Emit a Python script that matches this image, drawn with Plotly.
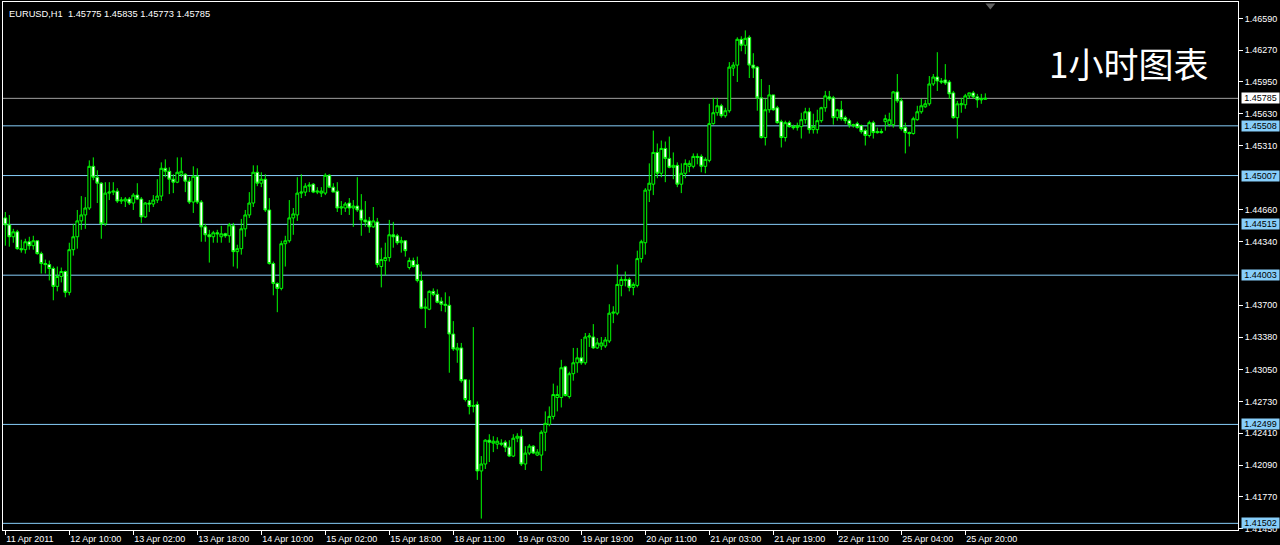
import plotly.graph_objects as go

symbol = "EURUSD,H1"
chart_title = "1小时图表"

opens = [
    1.4458, 1.4451, 1.4439, 1.4444, 1.4427, 1.4426, 1.4434, 1.4430, 1.4435, 1.4422,
    1.4412, 1.4411, 1.4407, 1.4389, 1.4399, 1.4404, 1.4383, 1.4426, 1.4439, 1.4455,
    1.4461, 1.4468, 1.4510, 1.4499, 1.4493, 1.4452, 1.4483, 1.4484, 1.4485, 1.4475,
    1.4475, 1.4477, 1.4473, 1.4481, 1.4477, 1.4459, 1.4473, 1.4472, 1.4476, 1.4480,
    1.4508, 1.4505, 1.4497, 1.4494, 1.4502, 1.4502, 1.4495, 1.4474, 1.4500, 1.4474,
    1.4449, 1.4441, 1.4439, 1.4443, 1.4439, 1.4442, 1.4440, 1.4450, 1.4424, 1.4427,
    1.4447, 1.4461, 1.4473, 1.4504, 1.4493, 1.4497, 1.4466, 1.4412, 1.4392, 1.4387,
    1.4432, 1.4435, 1.4458, 1.4461, 1.4483, 1.4484, 1.4490, 1.4492, 1.4484, 1.4483,
    1.4483, 1.4501, 1.4489, 1.4485, 1.4468, 1.4468, 1.4473, 1.4468, 1.4470, 1.4466,
    1.4456, 1.4455, 1.4449, 1.4454, 1.4409, 1.4415, 1.4418, 1.4441, 1.4440, 1.4433,
    1.4435, 1.4408, 1.4415, 1.4411, 1.4395, 1.4367, 1.4366, 1.4384, 1.4381, 1.4374,
    1.4371, 1.4370, 1.4341, 1.4325, 1.4327, 1.4295, 1.4274, 1.4268, 1.4270, 1.4203,
    1.4210, 1.4234, 1.4231, 1.4230, 1.4231, 1.4232, 1.4227, 1.4218, 1.4236, 1.4238,
    1.4210, 1.4221, 1.4228, 1.4219, 1.4219, 1.4242, 1.4250, 1.4258, 1.4277, 1.4277,
    1.4308, 1.4278, 1.4301, 1.4312, 1.4317, 1.4312, 1.4338, 1.4338, 1.4327, 1.4329,
    1.4329, 1.4334, 1.4362, 1.4362, 1.4390, 1.4396, 1.4396, 1.4388, 1.4390, 1.4417,
    1.4433, 1.4486, 1.4492, 1.4524, 1.4503, 1.4528, 1.4518, 1.4509, 1.4511, 1.4492,
    1.4503, 1.4510, 1.4510, 1.4520, 1.4520, 1.4510, 1.4516, 1.4553, 1.4564, 1.4571,
    1.4561, 1.4566, 1.4609, 1.4612, 1.4638, 1.4632, 1.4640, 1.4612, 1.4610, 1.4579,
    1.4539, 1.4567, 1.4582, 1.4569, 1.4555, 1.4539, 1.4554, 1.4550, 1.4549, 1.4550,
    1.4557, 1.4565, 1.4547, 1.4547, 1.4556, 1.4569, 1.4580, 1.4579, 1.4559, 1.4567,
    1.4559, 1.4556, 1.4552, 1.4553, 1.4551, 1.4546, 1.4541, 1.4554, 1.4545, 1.4545,
    1.4555, 1.4552, 1.4552, 1.4585, 1.4576, 1.4549, 1.4544, 1.4543, 1.4557, 1.4565,
    1.4570, 1.4573, 1.4593, 1.4600, 1.4596, 1.4597, 1.4595, 1.4584, 1.4559, 1.4572,
    1.4572, 1.4581, 1.4584, 1.4580, 1.4577, 1.45775,
]

highs = [
    1.4464, 1.4461, 1.4447, 1.4446, 1.4436, 1.4437, 1.4439, 1.4440, 1.4435, 1.4424,
    1.4416, 1.4415, 1.4409, 1.4409, 1.4408, 1.4405, 1.4433, 1.4452, 1.4466, 1.4480,
    1.4479, 1.4516, 1.4519, 1.4506, 1.4494, 1.4494, 1.4494, 1.4494, 1.4488, 1.4479,
    1.4479, 1.4479, 1.4483, 1.4493, 1.4479, 1.4474, 1.4476, 1.4481, 1.4497, 1.4514,
    1.4517, 1.4509, 1.4502, 1.4519, 1.4519, 1.4503, 1.4499, 1.4510, 1.4508, 1.4476,
    1.4452, 1.4446, 1.4445, 1.4446, 1.4450, 1.4443, 1.4453, 1.4453, 1.4431, 1.4457,
    1.4466, 1.4484, 1.4511, 1.4511, 1.4504, 1.4502, 1.4478, 1.4414, 1.4393, 1.4435,
    1.4440, 1.4476, 1.4468, 1.4499, 1.4502, 1.4493, 1.4494, 1.4493, 1.4489, 1.4489,
    1.4503, 1.4502, 1.4493, 1.4494, 1.4475, 1.4474, 1.4478, 1.4476, 1.4499, 1.4482,
    1.4475, 1.4459, 1.4469, 1.4458, 1.4428, 1.4433, 1.4456, 1.4454, 1.4442, 1.4439,
    1.4435, 1.4418, 1.4418, 1.4419, 1.4404, 1.4377, 1.4385, 1.4387, 1.4386, 1.4378,
    1.4383, 1.4379, 1.4354, 1.4332, 1.4332, 1.4295, 1.4295, 1.4348, 1.4273, 1.4218,
    1.4235, 1.4240, 1.4238, 1.4237, 1.4235, 1.4234, 1.4234, 1.4240, 1.4241, 1.4245,
    1.4228, 1.4230, 1.4229, 1.4225, 1.4244, 1.4263, 1.4268, 1.4291, 1.4289, 1.4315,
    1.4309, 1.4303, 1.4327, 1.4327, 1.4336, 1.4342, 1.4342, 1.4351, 1.4337, 1.4338,
    1.4338, 1.4371, 1.4369, 1.4411, 1.4399, 1.4404, 1.4398, 1.4393, 1.4425, 1.4436,
    1.4488, 1.4513, 1.4546, 1.4533, 1.4536, 1.4535, 1.4540, 1.4524, 1.4514, 1.4513,
    1.4517, 1.4516, 1.4523, 1.4523, 1.4522, 1.4519, 1.4573, 1.4579, 1.4579, 1.4573,
    1.4569, 1.4615, 1.4615, 1.4640, 1.4641, 1.4647, 1.4642, 1.4624, 1.4611, 1.4598,
    1.4578, 1.4592, 1.4582, 1.4571, 1.4557, 1.4556, 1.4556, 1.4552, 1.4554, 1.4564,
    1.4569, 1.4569, 1.4563, 1.4567, 1.4570, 1.4586, 1.4586, 1.4581, 1.4568, 1.4576,
    1.4561, 1.4558, 1.4553, 1.4555, 1.4552, 1.4548, 1.4556, 1.4556, 1.4549, 1.4548,
    1.4562, 1.4564, 1.4586, 1.4603, 1.4579, 1.4554, 1.4545, 1.4560, 1.4571, 1.4578,
    1.4577, 1.4601, 1.4603, 1.4625, 1.4599, 1.4613, 1.4597, 1.4586, 1.4576, 1.4579,
    1.4583, 1.4584, 1.4586, 1.4583, 1.4583, 1.45835,
]

lows = [
    1.4430, 1.4429, 1.4433, 1.4426, 1.4423, 1.4422, 1.4426, 1.4426, 1.4421, 1.4402,
    1.4402, 1.4395, 1.4375, 1.4384, 1.4393, 1.4378, 1.4380, 1.4420, 1.4427, 1.4446,
    1.4447, 1.4466, 1.4496, 1.4473, 1.4437, 1.4450, 1.4476, 1.4481, 1.4473, 1.4472,
    1.4469, 1.4471, 1.4466, 1.4476, 1.4453, 1.4458, 1.4464, 1.4469, 1.4473, 1.4475,
    1.4499, 1.4482, 1.4483, 1.4493, 1.4499, 1.4484, 1.4472, 1.4463, 1.4472, 1.4434,
    1.4434, 1.4413, 1.4433, 1.4433, 1.4433, 1.4438, 1.4433, 1.4409, 1.4407, 1.4421,
    1.4439, 1.4458, 1.4469, 1.4490, 1.4489, 1.4464, 1.4411, 1.4380, 1.4363, 1.4385,
    1.4409, 1.4433, 1.4441, 1.4455, 1.4478, 1.4480, 1.4484, 1.4483, 1.4482, 1.4479,
    1.4481, 1.4488, 1.4484, 1.4464, 1.4461, 1.4464, 1.4461, 1.4449, 1.4464, 1.4440,
    1.4449, 1.4443, 1.4448, 1.4408, 1.4388, 1.4400, 1.4414, 1.4428, 1.4431, 1.4423,
    1.4419, 1.4406, 1.4408, 1.4393, 1.4366, 1.4347, 1.4365, 1.4379, 1.4372, 1.4364,
    1.4363, 1.4302, 1.4324, 1.4312, 1.4292, 1.4273, 1.4260, 1.4262, 1.4194, 1.4155,
    1.4205, 1.4212, 1.4222, 1.4225, 1.4228, 1.4222, 1.4217, 1.4217, 1.4232, 1.4208,
    1.4204, 1.4219, 1.4220, 1.4218, 1.4203, 1.4223, 1.4248, 1.4255, 1.4263, 1.4267,
    1.4278, 1.4276, 1.4294, 1.4302, 1.4310, 1.4310, 1.4328, 1.4326, 1.4326, 1.4325,
    1.4327, 1.4332, 1.4352, 1.4360, 1.4379, 1.4389, 1.4384, 1.4380, 1.4388, 1.4413,
    1.4421, 1.4474, 1.4481, 1.4498, 1.4499, 1.4494, 1.4508, 1.4497, 1.4489, 1.4483,
    1.4498, 1.4504, 1.4508, 1.4512, 1.4504, 1.4503, 1.4514, 1.4552, 1.4561, 1.4559,
    1.4559, 1.4564, 1.4601, 1.4595, 1.4626, 1.4623, 1.4599, 1.4599, 1.4566, 1.4538,
    1.4531, 1.4564, 1.4566, 1.4553, 1.4529, 1.4535, 1.4549, 1.4547, 1.4546, 1.4538,
    1.4553, 1.4543, 1.4543, 1.4543, 1.4554, 1.4565, 1.4576, 1.4552, 1.4556, 1.4556,
    1.4553, 1.4549, 1.4549, 1.4548, 1.4543, 1.4531, 1.4539, 1.4538, 1.4543, 1.4543,
    1.4546, 1.4550, 1.4549, 1.4574, 1.4546, 1.4523, 1.4530, 1.4542, 1.4556, 1.4563,
    1.4569, 1.4571, 1.4591, 1.4586, 1.4593, 1.4592, 1.4578, 1.4558, 1.4538, 1.4564,
    1.4568, 1.4578, 1.4578, 1.4569, 1.4573, 1.45773,
]

closes = [
    1.4451, 1.4439, 1.4444, 1.4427, 1.4426, 1.4434, 1.4430, 1.4435, 1.4422, 1.4412,
    1.4411, 1.4407, 1.4389, 1.4399, 1.4404, 1.4383, 1.4426, 1.4439, 1.4455, 1.4461,
    1.4468, 1.4510, 1.4499, 1.4493, 1.4452, 1.4483, 1.4484, 1.4485, 1.4475, 1.4476,
    1.4477, 1.4473, 1.4481, 1.4477, 1.4459, 1.4473, 1.4472, 1.4476, 1.4480, 1.4508,
    1.4505, 1.4497, 1.4494, 1.4504, 1.4505, 1.4495, 1.4474, 1.4500, 1.4474, 1.4449,
    1.4441, 1.4439, 1.4443, 1.4442, 1.4442, 1.4440, 1.4451, 1.4424, 1.4427, 1.4447,
    1.4461, 1.4473, 1.4504, 1.4493, 1.4497, 1.4466, 1.4412, 1.4392, 1.4387, 1.4432,
    1.4435, 1.4458, 1.4462, 1.4483, 1.4484, 1.4490, 1.4491, 1.4484, 1.4485, 1.4485,
    1.4501, 1.4489, 1.4484, 1.4468, 1.4469, 1.4472, 1.4468, 1.4470, 1.4466, 1.4456,
    1.4454, 1.4449, 1.4455, 1.4411, 1.4416, 1.4418, 1.4441, 1.4439, 1.4433, 1.4435,
    1.4425, 1.4415, 1.4409, 1.4395, 1.4367, 1.4368, 1.4384, 1.4381, 1.4373, 1.4371,
    1.4370, 1.4341, 1.4326, 1.4327, 1.4294, 1.4275, 1.4268, 1.4269, 1.4203, 1.4210,
    1.4234, 1.4232, 1.4233, 1.4233, 1.4230, 1.4227, 1.4218, 1.4236, 1.4238, 1.4210,
    1.4221, 1.4228, 1.4221, 1.4222, 1.4242, 1.4251, 1.4258, 1.4280, 1.4280, 1.4307,
    1.4279, 1.4301, 1.4312, 1.4317, 1.4312, 1.4338, 1.4339, 1.4327, 1.4332, 1.4332,
    1.4335, 1.4362, 1.4363, 1.4391, 1.4396, 1.4395, 1.4388, 1.4391, 1.4417, 1.4434,
    1.4486, 1.4493, 1.4524, 1.4503, 1.4528, 1.4518, 1.4509, 1.4511, 1.4492, 1.4503,
    1.4513, 1.4513, 1.4520, 1.4519, 1.4510, 1.4517, 1.4553, 1.4564, 1.4571, 1.4561,
    1.4566, 1.4610, 1.4612, 1.4638, 1.4632, 1.4639, 1.4612, 1.4609, 1.4579, 1.4539,
    1.4567, 1.4582, 1.4567, 1.4554, 1.4539, 1.4554, 1.4550, 1.4549, 1.4551, 1.4557,
    1.4565, 1.4547, 1.4550, 1.4556, 1.4569, 1.4581, 1.4578, 1.4559, 1.4567, 1.4558,
    1.4556, 1.4552, 1.4551, 1.4549, 1.4545, 1.4541, 1.4554, 1.4544, 1.4544, 1.4544,
    1.4558, 1.4557, 1.4585, 1.4576, 1.4548, 1.4544, 1.4543, 1.4558, 1.4565, 1.4571,
    1.4573, 1.4593, 1.4600, 1.4596, 1.4595, 1.4594, 1.4583, 1.4559, 1.4573, 1.4573,
    1.4581, 1.4584, 1.4580, 1.4577, 1.4578, 1.45785,
]

bars = list(range(len(closes)))

time_tick_bars = [0, 16, 32, 48, 64, 80, 96, 112, 128, 144, 160, 176, 192, 208, 224, 240]
time_tick_labels = [
    "11 Apr 2011", "12 Apr 10:00", "13 Apr 02:00", "13 Apr 18:00", "14 Apr 10:00",
    "15 Apr 02:00", "15 Apr 18:00", "18 Apr 11:00", "19 Apr 03:00", "19 Apr 19:00",
    "20 Apr 11:00", "21 Apr 03:00", "21 Apr 19:00", "22 Apr 11:00", "25 Apr 04:00",
    "25 Apr 20:00",
]

price_ticks = [1.46590, 1.46270, 1.45950, 1.45630, 1.45310, 1.44660, 1.44340,
               1.43700, 1.43380, 1.43050, 1.42730, 1.42410, 1.42090, 1.41770, 1.41450]

level_lines = [1.45508, 1.45007, 1.44515, 1.44003, 1.42499, 1.41502]
bid_price = closes[-1]

GREEN = "#00FF00"
LEVEL_BLUE = "#87CEFA"
BID_GRAY = "#A0A0A0"
AXIS_FONT = "Liberation Sans, Arial, sans-serif"

fig = go.Figure(
    go.Candlestick(
        x=bars, open=opens, high=highs, low=lows, close=closes,
        increasing=dict(line=dict(color=GREEN, width=1), fillcolor="black"),
        decreasing=dict(line=dict(color=GREEN, width=1), fillcolor="white"),
        whiskerwidth=0,
        hoverinfo="skip",
    )
)

shapes = []
for lv in level_lines:
    shapes.append(dict(type="line", xref="paper", x0=0, x1=1, yref="y", y0=lv, y1=lv,
                       line=dict(color=LEVEL_BLUE, width=1), layer="below"))
shapes.append(dict(type="line", xref="paper", x0=0, x1=1, yref="y", y0=bid_price, y1=bid_price,
                   line=dict(color=BID_GRAY, width=1), layer="below"))
# chart shift marker at the top
shapes.append(dict(type="path", xref="paper", yref="paper",
                   path="M 0.7955 0.997 L 0.8035 0.997 L 0.7995 0.986 Z",
                   fillcolor="#606060", line=dict(width=0)))

annotations = []
for lv in level_lines:
    annotations.append(dict(
        x=1, xref="paper", xanchor="left", xshift=3,
        y=lv, yref="y", yanchor="middle",
        text=f"{lv:.5f}", showarrow=False,
        font=dict(family=AXIS_FONT, size=9, color="black"),
        bgcolor=LEVEL_BLUE, borderpad=0, width=37, align="center"))
annotations.append(dict(
    x=1, xref="paper", xanchor="left", xshift=3,
    y=bid_price, yref="y", yanchor="middle",
    text=f"{bid_price:.5f}", showarrow=False,
    font=dict(family=AXIS_FONT, size=9, color="black"),
    bgcolor="white", borderpad=0, width=37, align="center"))

header = f"{symbol}  {opens[-1]:.5f} {highs[-1]:.5f} {lows[-1]:.5f} {closes[-1]:.5f}"
annotations.append(dict(
    x=0, xref="paper", xanchor="left", xshift=4,
    y=1, yref="paper", yanchor="top", yshift=-5,
    text=header, showarrow=False,
    font=dict(family=AXIS_FONT, size=9.3, color="white")))
annotations.append(dict(
    x=0.845, xref="paper", xanchor="left",
    y=0.886, yref="paper", yanchor="middle",
    text=chart_title, showarrow=False,
    font=dict(family="Noto Sans CJK SC, sans-serif", size=35, color="white")))

fig.update_layout(
    width=1280, height=545,
    margin=dict(l=3, r=42, t=1, b=14),
    paper_bgcolor="black", plot_bgcolor="black",
    showlegend=False,
    boxgap=0.3, boxgroupgap=0,
    shapes=shapes, annotations=annotations,
    xaxis=dict(
        range=[-0.575, 308.175], rangeslider=dict(visible=False),
        tickmode="array", tickvals=time_tick_bars, ticktext=time_tick_labels,
        ticks="outside", ticklen=4, tickcolor="white", tickwidth=1,
        ticklabelposition="outside right",
        tickfont=dict(family=AXIS_FONT, size=9, color="white"),
        showgrid=False, zeroline=False,
        showline=True, linecolor="white", linewidth=1, mirror=True,
        fixedrange=True,
    ),
    yaxis=dict(
        side="right", range=[1.41435, 1.46756],
        tickmode="array", tickvals=price_ticks, tickformat=".5f",
        ticks="outside", ticklen=4, tickcolor="white", tickwidth=1,
        tickfont=dict(family=AXIS_FONT, size=9, color="white"),
        showgrid=False, zeroline=False,
        showline=True, linecolor="white", linewidth=1, mirror=True,
        fixedrange=True,
    ),
)

fig.write_html(
    "out.html",
    config={"displayModeBar": False},
    post_script="document.body.style.margin='0';document.body.style.overflow='hidden';",
)
